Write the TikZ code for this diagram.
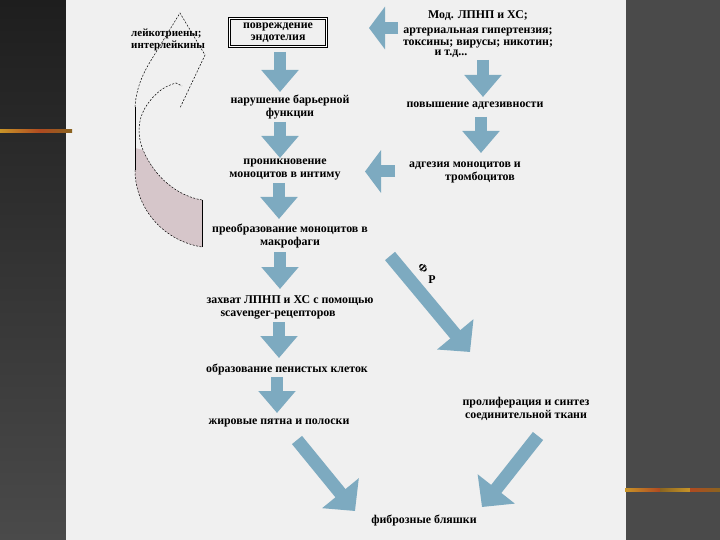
\documentclass[tikz,border=0pt]{standalone}
\usepackage{fontspec}
\setmainfont{Liberation Serif}
\usetikzlibrary{arrows.meta}
\definecolor{panel}{HTML}{F0F0F0}
\definecolor{arrowblue}{RGB}{125,170,192}
\definecolor{darkbg}{HTML}{1E1E1E}
\definecolor{graybg}{HTML}{4A4A4A}
\definecolor{pinkfill}{RGB}{214,198,202}
\definecolor{decoY}{HTML}{C89428}
\definecolor{decoR}{HTML}{B04A20}
\definecolor{decoB}{HTML}{8A6420}
\begin{document}
\begin{tikzpicture}[x=1pt,y=-1pt,
  txt/.style={font=\fontsize{11.9}{13}\selectfont\bfseries, align=center, inner sep=0pt},
  varrow/.style={draw=arrowblue, line width=12pt, -{Triangle[width=36pt,length=22pt,fill=arrowblue]}},
  harrow/.style={draw=arrowblue, line width=12pt, -{Triangle[width=42pt,length=16pt,fill=arrowblue]}},
  darrow/.style={draw=arrowblue, line width=13pt, -{Triangle[width=46pt,length=23pt,fill=arrowblue]}},
  dashline/.style={draw=black, line width=0.5pt, dash pattern=on 2pt off 1.5pt},
  solidline/.style={draw=black, line width=0.7pt},
]
% background
\useasboundingbox (0,0) rectangle (720,540);
\fill[graybg] (0,0) rectangle (720,540);
\shade[top color=darkbg, bottom color=graybg] (0,0) rectangle (66,540);
\fill[panel] (66,0) rectangle (626,540);
% decorative lines
\shade[left color=decoY, right color=decoR] (0,129.5) rectangle (40,132.5);
\shade[left color=decoR, right color=decoB] (40,129.5) rectangle (72,132.5);
\shade[left color=decoY, right color=decoR] (625,488.5) rectangle (660,491.5);
\shade[left color=decoB, right color=decoY] (660,488.5) rectangle (690,491.5);
\shade[left color=decoR, right color=decoB] (690,488.5) rectangle (720,491.5);

% curved arrow (left)
\fill[pinkfill] (135,148) -- (135,170) .. controls (135,205) and (160,240) .. (202,247)
  -- (202,200) .. controls (178,196) and (155,178) .. (143,150) -- cycle;
\draw[dashline] (135,170) .. controls (135,205) and (160,240) .. (202,247);
\draw[solidline] (202,247) -- (202,200);
\draw[solidline] (135,107) -- (135,170);
\draw[dashline] (202,200) .. controls (178,196) and (155,178) .. (143,150)
  .. controls (137,135) and (138,120) .. (145,108)
  .. controls (155,92) and (165,86) .. (176,83) -- (182,86);
\draw[dashline] (135,107) .. controls (136,90) and (142,75) .. (150,62)
  -- (180,13) -- (205,55) -- (180,108);
\node[txt, font=\fontsize{11}{12}\selectfont\bfseries, align=left, anchor=west] (leuk) at (131,39.5) {лейкотриены;\\интерлейкины};

% left column
\node[txt, font=\fontsize{11.9}{11.5}\selectfont\bfseries, draw, double, double distance=1.5pt, line width=0.5pt,
      minimum width=97pt, minimum height=28pt] (box) at (278,32.5) {повреждение\\эндотелия};
\node[txt] (barrier) at (290,107) {нарушение барьерной\\функции};
\node[txt] (penetr) at (285,169.5) {проникновение\\моноцитов в интиму};
\node[txt] (transf) at (290,236.5) {преобразование моноцитов в\\макрофаги};
\node[txt] (capture) at (290,307.5) {захват ЛПНП и ХС с помощью\\scavenger-рецепторов\hspace*{24pt}};
\node[txt] (foam) at (287,370) {образование пенистых клеток};
\node[txt] (fatty) at (279,423) {жировые пятна и полоски};

% right column
\node[txt, font=\fontsize{11.9}{11.5}\selectfont\bfseries] (mod) at (478,34.5) {Мод. ЛПНП и ХС;\\[3pt] артериальная гипертензия;\\[0.5pt] токсины; вирусы; никотин;\\[-1pt] и т.д...\hspace*{54pt}};
\node[txt] (adh) at (475,105.5) {повышение адгезивности};
\node[txt] (adhmono) at (465,172) {адгезия моноцитов и\\\hspace*{30pt}тромбоцитов};
\node[txt] (prolif) at (526,409) {пролиферация и синтез\\соединительной ткани};
\node[txt] (fibr) at (424,521) {фиброзные бляшки};
\node[txt, font=\fontsize{11}{12}\selectfont\bfseries, rotate=-45] (phi) at (423,268) {Ф};
\node[txt] (er) at (432,280) {Р};

% arrow end points
\coordinate (a1s) at (280,52);   \coordinate (a1e) at (280,92);
\coordinate (a2s) at (280,122);  \coordinate (a2e) at (280,158);
\coordinate (a3s) at (279,183);  \coordinate (a3e) at (279,219);
\coordinate (a4s) at (280,252);  \coordinate (a4e) at (280,289);
\coordinate (a5s) at (279,322);  \coordinate (a5e) at (279,358);
\coordinate (a6s) at (277,377);  \coordinate (a6e) at (277,413);
\coordinate (r1s) at (483,60);   \coordinate (r1e) at (483,97);
\coordinate (r2s) at (481,117);  \coordinate (r2e) at (481,153);
\coordinate (l1s) at (398,28);   \coordinate (l1e) at (369,28);
\coordinate (l2s) at (395,171.5);\coordinate (l2e) at (365,171.5);
\coordinate (d1s) at (390,256);  \coordinate (d1e) at (470,352);
\coordinate (d2s) at (297,440);  \coordinate (d2e) at (355,511);
\coordinate (d3s) at (538,436);  \coordinate (d3e) at (482,507);

\draw[varrow] (a1s) -- (a1e);
\draw[varrow] (a2s) -- (a2e);
\draw[varrow] (a3s) -- (a3e);
\draw[varrow] (a4s) -- (a4e);
\draw[varrow] (a5s) -- (a5e);
\draw[varrow] (a6s) -- (a6e);
\draw[varrow] (r1s) -- (r1e);
\draw[varrow] (r2s) -- (r2e);
\draw[harrow] (l1s) -- (l1e);
\draw[harrow] (l2s) -- (l2e);
\draw[darrow] (d1s) -- (d1e);
\draw[darrow] (d2s) -- (d2e);
\draw[darrow] (d3s) -- (d3e);
\end{tikzpicture}
\end{document}
